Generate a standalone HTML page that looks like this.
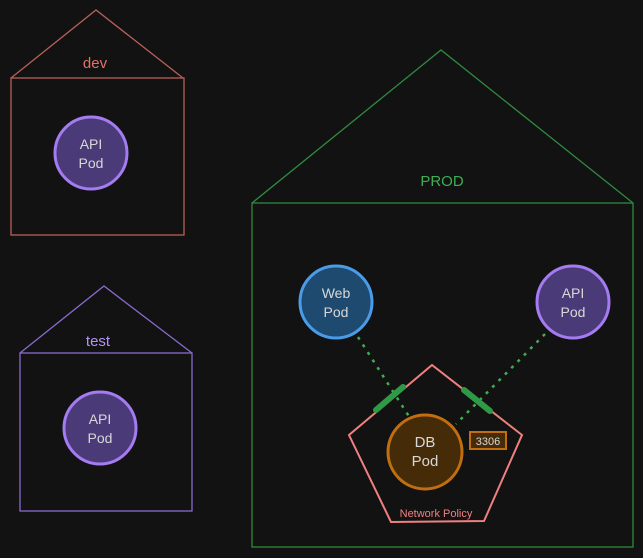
<!DOCTYPE html>
<html><head><style>
html,body{margin:0;padding:0;background:#121212;}
svg{display:block;}
text{font-family:"Liberation Sans",sans-serif;}
</style></head><body>
<svg width="643" height="558" viewBox="0 0 643 558" xmlns="http://www.w3.org/2000/svg">
<rect width="643" height="558" fill="#121212"/>
<!-- dev -->
<g fill="none" stroke="#b9605a" stroke-width="1.3">
<polyline points="11,78 96,10 183,78"/>
<rect x="11" y="78" width="173" height="157"/>
</g>
<text x="95" y="68" fill="#e2726a" font-size="15" text-anchor="middle">dev</text>
<circle cx="91" cy="153" r="36" fill="#4a3b78" stroke="#a47bf0" stroke-width="3"/>
<text x="91" y="149" fill="#d8d8d8" font-size="14" text-anchor="middle">API</text>
<text x="91" y="168" fill="#d8d8d8" font-size="14" text-anchor="middle">Pod</text>
<!-- test -->
<g fill="none" stroke="#8a6ad0" stroke-width="1.3">
<polyline points="20,353 104,286 192,353"/>
<rect x="20" y="353" width="172" height="158"/>
</g>
<text x="98" y="346" fill="#b592f5" font-size="15" text-anchor="middle">test</text>
<circle cx="100" cy="428" r="36" fill="#4a3b78" stroke="#a47bf0" stroke-width="3"/>
<text x="100" y="424" fill="#d8d8d8" font-size="14" text-anchor="middle">API</text>
<text x="100" y="443" fill="#d8d8d8" font-size="14" text-anchor="middle">Pod</text>
<!-- prod -->
<g fill="none" stroke="#2f8a3f" stroke-width="1.3">
<polyline points="252,203 441,50 633,203"/>
<rect x="252" y="203" width="381" height="344"/>
</g>
<text x="442" y="186" fill="#3fae52" font-size="15" text-anchor="middle">PROD</text>
<!-- dotted -->
<g stroke="#3fae52" stroke-width="2.5" stroke-dasharray="3 6" fill="none">
<line x1="358" y1="337" x2="410" y2="418"/>
<line x1="545" y1="334" x2="456" y2="424"/>
</g>
<!-- pentagon -->
<polygon points="432,365 349,435 391,522 484,521 522,435" fill="none" stroke="#f08080" stroke-width="2"/>
<g stroke="#2f9a46" stroke-width="6" stroke-linecap="round">
<line x1="376" y1="410" x2="403" y2="387"/>
<line x1="464" y1="390" x2="490" y2="411"/>
</g>
<circle cx="336" cy="302" r="36" fill="#1d4a6e" stroke="#4a9be8" stroke-width="3"/>
<text x="336" y="298" fill="#d8d8d8" font-size="14" text-anchor="middle">Web</text>
<text x="336" y="317" fill="#d8d8d8" font-size="14" text-anchor="middle">Pod</text>
<circle cx="573" cy="302" r="36" fill="#4a3b78" stroke="#a47bf0" stroke-width="3"/>
<text x="573" y="298" fill="#d8d8d8" font-size="14" text-anchor="middle">API</text>
<text x="573" y="317" fill="#d8d8d8" font-size="14" text-anchor="middle">Pod</text>
<circle cx="425" cy="452" r="37" fill="#452b07" stroke="#c06e10" stroke-width="3"/>
<text x="425" y="447" fill="#d8d8d8" font-size="15" text-anchor="middle">DB</text>
<text x="425" y="466" fill="#d8d8d8" font-size="15" text-anchor="middle">Pod</text>
<rect x="470" y="432" width="36" height="17" fill="#452b07" stroke="#c06e10" stroke-width="2"/>
<text x="488" y="445" fill="#d8d8d8" font-size="11" text-anchor="middle">3306</text>
<text x="436" y="517" fill="#f08080" font-size="11" text-anchor="middle">Network Policy</text>
</svg>
</body></html>
